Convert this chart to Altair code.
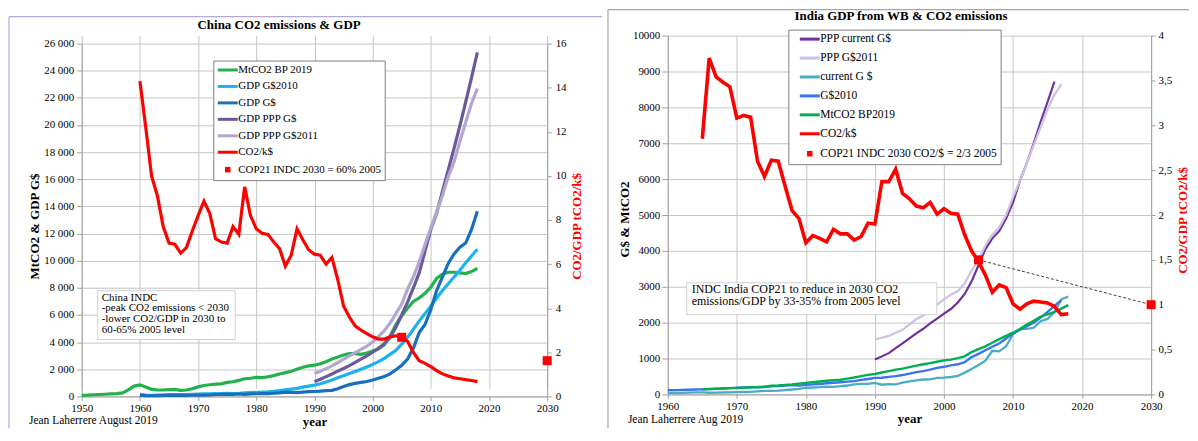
import altair as alt
import pandas as pd

SERIF = "Liberation Serif"

# ---------------- China data ----------------
china_names = ["MtCO2 BP 2019", "GDP G$2010", "GDP G$", "GDP PPP G$", "GDP PPP G$2011",
               "CO2/k$", "COP21 INDC 2030 = 60% 2005"]
china_colors = ["#22b24c", "#1eb2ec", "#1a6fbd", "#6a5a9a", "#b3a7cf", "#ff0000", "#ff0000"]

china_co2_years = list(range(1950, 2019))
china_co2 = [70, 90, 120, 140, 160, 180, 200, 260, 480, 760,
             850, 690, 520, 480, 470, 500, 520, 450, 470, 560,
             700, 800, 860, 900, 920, 1030, 1080, 1180, 1300, 1340,
             1400, 1390, 1450, 1530, 1650, 1750, 1850, 2000, 2150, 2250,
             2300, 2400, 2550, 2750, 2900, 3050, 3150, 3150, 3100, 3200,
             3350, 3500, 3800, 4450, 5300, 5950, 6500, 7000, 7250, 7600,
             8050, 8700, 9000, 9150, 9150, 9100, 9050, 9200, 9430]

china_gdp_years = list(range(1960, 2019))
china_gdp2010 = [130, 90, 85, 95, 110, 125, 135, 130, 125, 145,
                 170, 180, 185, 200, 205, 220, 215, 230, 260, 280,
                 300, 315, 340, 380, 430, 490, 540, 590, 680, 760,
                 830, 930, 1060, 1210, 1370, 1520, 1680, 1840, 2000, 2170,
                 2360, 2560, 2800, 3100, 3400, 3850, 4350, 4950, 5550, 6100,
                 6650, 7250, 7800, 8300, 8800, 9300, 9850, 10350, 10850]
china_gdp_cur = [100, 60, 50, 55, 65, 75, 80, 75, 75, 85,
                 95, 100, 115, 140, 145, 165, 155, 175, 150, 180,
                 195, 200, 205, 230, 260, 310, 300, 275, 315, 350,
                 360, 385, 425, 445, 565, 735, 865, 960, 1030, 1095,
                 1210, 1340, 1470, 1660, 1960, 2290, 2750, 3550, 4700, 5300,
                 6400, 7800, 8800, 9800, 10500, 11000, 11300, 12300, 13650]

china_ppp_years = list(range(1990, 2019))
china_ppp_cur = [1090, 1270, 1460, 1650, 1860, 2060, 2270, 2510, 2750, 2990,
                 3260, 3540, 3880, 4330, 5100, 6000, 6950, 8000, 9100, 10700,
                 12300, 13500, 15100, 16700, 18300, 19950, 21700, 23500, 25350]
china_ppp2011 = [1680, 1850, 2050, 2250, 2480, 2740, 2990, 3220, 3460, 3700,
                 4020, 4400, 4850, 5400, 6100, 6800, 7900, 8800, 9900, 11200,
                 12400, 13600, 14800, 16200, 17300, 18800, 20200, 21600, 22680]

china_ratio_years = list(range(1960, 2019))
china_ratio = [14.3, 12.2, 10.0, 9.1, 7.7, 6.95, 6.9, 6.5, 6.75, 7.5,
               8.2, 8.85, 8.3, 7.15, 7.0, 6.95, 7.7, 7.35, 9.5, 8.2,
               7.6, 7.4, 7.35, 7.0, 6.7, 5.9, 6.4, 7.6, 7.1, 6.65,
               6.45, 6.4, 6.0, 6.3, 5.3, 4.1, 3.6, 3.2, 3.0, 2.85,
               2.7, 2.6, 2.6, 2.7, 2.75, 2.7, 2.5, 2.0, 1.62, 1.5,
               1.35, 1.17, 1.02, 0.92, 0.84, 0.8, 0.76, 0.72, 0.67]
china_target_years = [2005, 2030]
china_target = [2.68, 1.62]

china_x_ticks = [1950, 1960, 1970, 1980, 1990, 2000, 2010, 2020, 2030]
china_y_ticks = list(range(0, 26001, 2000))
china_r_ticks = list(range(0, 17, 2))

# ---------------- India data ----------------
india_names = ["PPP current G$", "PPP G$2011", "current G $", "G$2010", "MtCO2 BP2019",
               "CO2/k$", "COP21 INDC 2030 CO2/$ = 2/3 2005"]
india_colors = ["#7030a0", "#cdc2e2", "#4bacc6", "#3a72f2", "#00b050", "#ff0000", "#ff0000"]

india_pppcur_years = list(range(1990, 2017))
india_pppcur = [970, 1060, 1150, 1290, 1420, 1560, 1700, 1830, 1980, 2110,
                2250, 2380, 2560, 2800, 3150, 3600, 4050, 4350, 4550, 4900,
                5350, 5950, 6450, 7000, 7600, 8150, 8720]
india_ppp2011_years = list(range(1990, 2018))
india_ppp2011 = [1530, 1580, 1630, 1720, 1800, 1950, 2100, 2200, 2350, 2500,
                 2650, 2780, 2880, 3100, 3450, 3750, 4150, 4450, 4650, 5000,
                 5500, 5950, 6450, 6950, 7450, 7950, 8350, 8650]
india_cur_years = list(range(1960, 2019))
india_cur = [37, 39, 42, 49, 56, 59, 46, 50, 53, 58,
             62, 67, 71, 85, 99, 98, 103, 122, 137, 153,
             186, 193, 201, 218, 212, 232, 248, 279, 296, 296,
             321, 270, 288, 279, 327, 360, 392, 415, 421, 458,
             468, 485, 515, 607, 709, 820, 940, 1216, 1198, 1342,
             1676, 1823, 1828, 1857, 2039, 2104, 2295, 2651, 2726]
india_g2010_years = list(range(1960, 2018))
india_g2010 = [115, 120, 125, 130, 138, 140, 145, 158, 165, 175,
               190, 192, 194, 200, 205, 225, 230, 245, 258, 245,
               265, 280, 290, 310, 325, 340, 355, 370, 405, 430,
               460, 465, 490, 510, 540, 580, 620, 650, 690, 740,
               770, 810, 840, 900, 1040, 1130, 1230, 1330, 1420, 1560,
               1700, 1800, 1900, 2000, 2140, 2300, 2470, 2630]
india_co2_years = list(range(1965, 2019))
india_co2 = [140, 150, 155, 165, 175,
             180, 190, 200, 205, 215, 240, 250, 265, 275, 300,
             320, 340, 360, 380, 395, 410, 440, 470, 510, 545,
             570, 610, 650, 690, 720, 760, 800, 840, 870, 910,
             950, 970, 1010, 1060, 1180, 1260, 1340, 1440, 1540, 1630,
             1720, 1820, 1950, 2050, 2170, 2230, 2300, 2390, 2490]
india_ratio_years = list(range(1965, 2019))
india_ratio = [2.85, 3.75, 3.54, 3.48, 3.43,
               3.08, 3.11, 3.09, 2.60, 2.43, 2.61, 2.60, 2.32, 2.05, 1.96,
               1.69, 1.77, 1.74, 1.70, 1.84, 1.79, 1.79, 1.72, 1.76, 1.91,
               1.90, 2.37, 2.37, 2.51, 2.24, 2.18, 2.10, 2.08, 2.14, 2.01,
               2.07, 2.02, 2.01, 1.78, 1.60, 1.48, 1.33, 1.14, 1.22, 1.19,
               1.01, 0.95, 1.01, 1.04, 1.03, 1.02, 0.98, 0.89, 0.90]
india_target_years = [2005, 2030]
india_target = [1.5, 1.0]

india_x_ticks = [1960, 1970, 1980, 1990, 2000, 2010, 2020, 2030]
india_y_ticks = list(range(0, 10001, 1000))
india_r_ticks = [0, 0.5, 1, 1.5, 2, 2.5, 3, 3.5, 4]


def long_df(entries, field="value"):
    rows = []
    for name, yrs, vals in entries:
        assert len(yrs) == len(vals), name
        for y, v in zip(yrs, vals):
            rows.append({"series": name, "year": y, field: v})
    return pd.DataFrame(rows)


ONE = pd.DataFrame({"k": [0]})


def rule(x, y, x2=None, y2=None, color="#999999", width=1.0):
    enc = dict(x=alt.value(x), y=alt.value(y))
    if x2 is not None:
        enc["x2"] = alt.value(x2)
    if y2 is not None:
        enc["y2"] = alt.value(y2)
    return alt.Chart(ONE).mark_rule(color=color, strokeWidth=width).encode(**enc)


def text(t, x, y, size, weight="normal", align="left", baseline="middle", line_height=None):
    kw = dict(text=t, font=SERIF, fontSize=size, fontWeight=weight, align=align,
              baseline=baseline, color="black")
    if line_height:
        kw["lineHeight"] = line_height
    return alt.Chart(ONE).mark_text(**kw).encode(x=alt.value(x), y=alt.value(y))


def box(x, x2, y, y2):
    return alt.Chart(ONE).mark_rect(fill="white", stroke="#d0d0d0", strokeWidth=1).encode(
        x=alt.value(x), x2=alt.value(x2), y=alt.value(y), y2=alt.value(y2))


LINE_PATH = "M-2,0H2"
SQUARE_PATH = "M-0.25,-0.25H0.25V0.25H-0.25Z"


def panel(p):
    names = p["names"]
    shapes = [LINE_PATH] * 6 + [SQUARE_PATH]
    leg = dict(orient="none", legendX=p["leg_x"], legendY=p["leg_y"], title=None,
               direction="vertical", labelFont=SERIF, labelFontSize=p["leg_font"],
               labelColor="black", labelLimit=400, strokeColor="#7f7f7f", fillColor="white",
               padding=3, rowPadding=p["leg_row"], symbolOffset=p["leg_symoff"],
               labelOffset=p["leg_laboff"], symbolSize=100,
               symbolStrokeWidth=p["leg_sw"], cornerRadius=0)
    yrange = [p["height"], p["top_gap"]]
    xscale = alt.Scale(domain=p["x_domain"], nice=False, zero=False)
    xaxis = alt.Axis(values=p["x_ticks"], format="d", title="year", titleFontWeight="bold",
                     titleFontSize=13, titleY=p["xtitle_y"], titleBaseline="middle",
                     grid=True, tickSize=4, labelPadding=2, labelFlush=False,
                     labelOverlap=False, labelFontSize=11)
    lines = alt.Chart(p["lines"]).mark_line().encode(
        x=alt.X("year:Q", scale=xscale, axis=xaxis),
        y=alt.Y("value:Q", scale=alt.Scale(domain=p["y_domain"], range=yrange, nice=False),
                axis=alt.Axis(orient="left", values=p["y_ticks"], labelExpr=p["y_expr"],
                              title=p["y_title"], titleFontWeight="bold", titleFontSize=13,
                              titleAngle=270, titleX=p["ytitle_x"], titleY=p["ytitle_y"],
                              titleBaseline="middle", titleAlign="center", grid=True,
                              tickSize=p["ytick"], labelPadding=p["ylabpad"],
                              labelOverlap=False, labelFontSize=11)),
        color=alt.Color("series:N", scale=alt.Scale(domain=names, range=p["colors"]),
                        legend=alt.Legend(**leg)),
        strokeWidth=alt.StrokeWidth("series:N",
                                    scale=alt.Scale(domain=names[:5], range=p["widths"]),
                                    legend=None),
    )
    ratio_line = alt.Chart(p["ratio"]).mark_line(color="#ff0000", strokeWidth=p["red_w"]).encode(
        x=alt.X("year:Q", scale=xscale),
        y=alt.Y("ratio:Q", scale=alt.Scale(domain=p["r_domain"], range=yrange, nice=False),
                axis=alt.Axis(orient="right", values=p["r_ticks"], labelExpr=p["r_expr"],
                              title="CO2/GDP tCO2/k$", titleColor="#ff0000",
                              titleFontWeight="bold", titleFontSize=13, titleAngle=270,
                              titleX=p["rtitle_x"], titleY=p["rtitle_y"],
                              titleBaseline="middle", titleAlign="center", grid=False,
                              tickSize=4, labelPadding=p["rlabpad"], labelOverlap=False,
                              labelFontSize=11)),
    )
    right_layers = [ratio_line]
    if p["dashed"]:
        right_layers.append(alt.Chart(p["target"]).mark_line(
            color="#404040", strokeWidth=1, strokeDash=[3, 2]).encode(
            x=alt.X("year:Q", scale=xscale), y="ratio:Q"))
    right_layers.append(alt.Chart(p["target"]).mark_point(
        filled=True, size=1300, opacity=1, color="#ff0000").encode(
        x=alt.X("year:Q", scale=xscale), y="ratio:Q",
        shape=alt.Shape("series:N", scale=alt.Scale(domain=names, range=shapes),
                        legend=alt.Legend(**leg))))
    right = alt.layer(*right_layers)
    layers = [lines, right] + p["annotations"]
    return alt.layer(*layers).resolve_scale(y="independent").properties(
        width=p["width"], height=p["height"])


# ---------------- China panel (group origin at page ~ (81, 34); 26000 at page 42) ----------------
china_lines = long_df([
    (china_names[0], china_co2_years, china_co2),
    (china_names[1], china_gdp_years, china_gdp2010),
    (china_names[2], china_gdp_years, china_gdp_cur),
    (china_names[3], china_ppp_years, china_ppp_cur),
    (china_names[4], china_ppp_years, china_ppp2011),
])
china_ratio_df = long_df([(china_names[5], china_ratio_years, china_ratio)], "ratio")
china_target_df = long_df([(china_names[6], china_target_years, china_target)], "ratio")

C_W, C_H = 467, 362
china_ann = [
    rule(-73, -19, x2=522, color="#b4a9d8", width=1.2),
    rule(-73, -19, y2=394, color="#b4a9d8", width=1.2),
    text("China CO2 emissions & GDP", 198, -11, 13, weight="bold", align="center"),
    box(16, 154, 256, 305),
    text(["China INDC", "-peak CO2 emissions < 2030", "-lower CO2/GDP in 2030 to",
          "60-65% 2005 level"], 20, 257, 11, baseline="top", line_height=10.8),
    text("Jean Laherrere August 2019", -53, 387, 11.5),
]
china = panel(dict(
    names=china_names, colors=china_colors, widths=[3.2, 3.2, 3.2, 3.2, 3.2], red_w=3.2,
    lines=china_lines, ratio=china_ratio_df, target=china_target_df, dashed=False,
    x_domain=[1950, 2030], x_ticks=china_x_ticks, xtitle_y=25,
    y_domain=[0, 26000], y_ticks=china_y_ticks,
    y_expr="replace(format(datum.value, ','), ',', ' ')", y_title="MtCO2 & GDP G$",
    ytitle_x=-47, ytitle_y=191, ytick=5, ylabpad=3,
    r_domain=[0, 16], r_ticks=china_r_ticks, r_expr="toString(datum.value)",
    rtitle_x=29, rtitle_y=191, rlabpad=4,
    leg_x=132, leg_y=25, leg_font=11, leg_row=3.5, leg_symoff=5, leg_laboff=4, leg_sw=3,
    width=C_W, height=C_H, top_gap=8, annotations=china_ann,
))

# ---------------- India panel (group origin at page ~ (667, 34)) ----------------
india_lines = long_df([
    (india_names[0], india_pppcur_years, india_pppcur),
    (india_names[1], india_ppp2011_years, india_ppp2011),
    (india_names[2], india_cur_years, india_cur),
    (india_names[3], india_g2010_years, india_g2010),
    (india_names[4], india_co2_years, india_co2),
])
india_ratio_df = long_df([(india_names[5], india_ratio_years, india_ratio)], "ratio")
india_target_df = long_df([(india_names[6], india_target_years, india_target)], "ratio")

I_W, I_H = 485, 360
india_ann = [
    rule(-60, -26, x2=523, color="#a6a6a6", width=1.2),
    rule(-60, -26, y2=394, color="#a6a6a6", width=1.2),
    text("India GDP from WB & CO2 emissions", 234, -20, 13, weight="bold", align="center"),
    box(19, 270, 248, 280),
    text(["INDC India COP21 to reduce in 2030  CO2", "emissions/GDP by 33-35% from 2005 level"],
         24, 249, 12, baseline="top", line_height=12.4),
    text("Jean Laherrere Aug 2019", -40, 386, 11.5),
]
india = panel(dict(
    names=india_names, colors=india_colors, widths=[2.2, 2.4, 2.0, 2.0, 3.4], red_w=3.6,
    lines=india_lines, ratio=india_ratio_df, target=india_target_df, dashed=True,
    x_domain=[1960, 2030], x_ticks=india_x_ticks, xtitle_y=24,
    y_domain=[0, 10000], y_ticks=india_y_ticks,
    y_expr="format(datum.value, 'd')", y_title="G$ & MtCO2",
    ytitle_x=-43, ytitle_y=184, ytick=6, ylabpad=2,
    r_domain=[0, 4], r_ticks=india_r_ticks, r_expr="replace(toString(datum.value), '.', ',')",
    rtitle_x=31, rtitle_y=185, rlabpad=3,
    leg_x=121, leg_y=-6, leg_font=11.5, leg_row=6, leg_symoff=12, leg_laboff=4, leg_sw=3,
    width=I_W, height=I_H, top_gap=0, annotations=india_ann,
))

chart = alt.concat(
    china, india, columns=2, spacing=4, padding=0, align="none"
).resolve_scale(
    color="independent", shape="independent", strokeWidth="independent"
).resolve_legend(
    color="independent", shape="independent"
).configure_view(
    stroke=None
).configure_axis(
    labelFont=SERIF, titleFont=SERIF, labelColor="black", titleColor="black",
    domainColor="#a0a0a0", tickColor="#a0a0a0", gridColor="#c6c6c6", gridWidth=1,
)

chart.save("out.html", embed_options={"renderer": "svg", "actions": False})
